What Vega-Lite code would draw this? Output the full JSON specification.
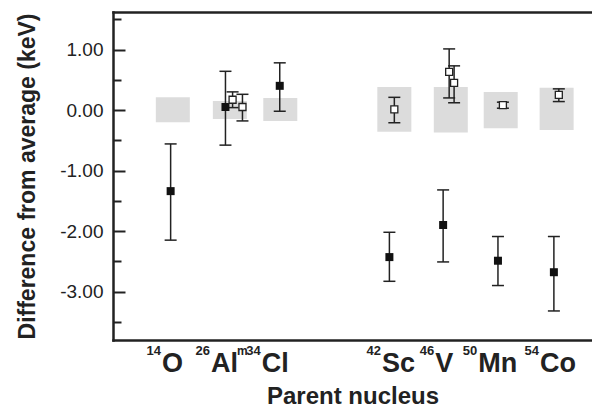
{
  "$schema": "https://vega.github.io/schema/vega-lite/v6.json",
  "width": 479,
  "height": 328,
  "autosize": {"type": "none"},
  "padding": {"left": 113, "top": 12, "right": 0, "bottom": 67},
  "background": "white",
  "config": {"view": {"stroke": null}, "font": "Liberation Sans"},
  "datasets": {
    "bands": [
      {"nucleus": "14O", "pos": 1.0, "lo": -0.20, "hi": 0.21},
      {"nucleus": "26Alm", "pos": 2.04, "lo": -0.15, "hi": 0.15},
      {"nucleus": "34Cl", "pos": 2.96, "lo": -0.18, "hi": 0.20},
      {"nucleus": "42Sc", "pos": 5.04, "lo": -0.36, "hi": 0.38},
      {"nucleus": "46V", "pos": 6.07, "lo": -0.37, "hi": 0.38},
      {"nucleus": "50Mn", "pos": 6.98, "lo": -0.30, "hi": 0.30},
      {"nucleus": "54Co", "pos": 8.0, "lo": -0.33, "hi": 0.37}
    ],
    "points": [
      {"nucleus": "14O", "kind": "filled", "pos": 0.96, "value": -1.34, "lo": -2.15, "hi": -0.56},
      {"nucleus": "26Alm", "kind": "filled", "pos": 1.96, "value": 0.05, "lo": -0.58, "hi": 0.64},
      {"nucleus": "34Cl", "kind": "filled", "pos": 2.95, "value": 0.40, "lo": -0.02, "hi": 0.78},
      {"nucleus": "42Sc", "kind": "filled", "pos": 4.95, "value": -2.43, "lo": -2.83, "hi": -2.02},
      {"nucleus": "46V", "kind": "filled", "pos": 5.93, "value": -1.90, "lo": -2.51, "hi": -1.32},
      {"nucleus": "50Mn", "kind": "filled", "pos": 6.93, "value": -2.49, "lo": -2.90, "hi": -2.09},
      {"nucleus": "54Co", "kind": "filled", "pos": 7.95, "value": -2.68, "lo": -3.32, "hi": -2.09},
      {"nucleus": "26Alm", "kind": "open", "pos": 2.09, "value": 0.17, "lo": 0.04, "hi": 0.30},
      {"nucleus": "26Alm", "kind": "open", "pos": 2.27, "value": 0.05, "lo": -0.18, "hi": 0.26},
      {"nucleus": "42Sc", "kind": "open", "pos": 5.04, "value": 0.01, "lo": -0.21, "hi": 0.21},
      {"nucleus": "46V", "kind": "open", "pos": 6.04, "value": 0.63, "lo": 0.20, "hi": 1.01},
      {"nucleus": "46V", "kind": "open", "pos": 6.13, "value": 0.45, "lo": 0.12, "hi": 0.73},
      {"nucleus": "50Mn", "kind": "open", "pos": 7.02, "value": 0.08, "lo": 0.03, "hi": 0.13},
      {"nucleus": "54Co", "kind": "open", "pos": 8.04, "value": 0.25, "lo": 0.14, "hi": 0.35}
    ],
    "labels": [
      {"nucleus": "14O", "mass": "14", "symbol": "O", "isomer": "", "pos": 0.804},
      {"nucleus": "26Alm", "mass": "26", "symbol": "Al", "isomer": "m", "pos": 1.696},
      {"nucleus": "34Cl", "mass": "34", "symbol": "Cl", "isomer": "", "pos": 2.62},
      {"nucleus": "42Sc", "mass": "42", "symbol": "Sc", "isomer": "", "pos": 4.813},
      {"nucleus": "46V", "mass": "46", "symbol": "V", "isomer": "", "pos": 5.786},
      {"nucleus": "50Mn", "mass": "50", "symbol": "Mn", "isomer": "", "pos": 6.571},
      {"nucleus": "54Co", "mass": "54", "symbol": "Co", "isomer": "", "pos": 7.696}
    ]
  },
  "layer": [
    {
      "data": {"name": "bands"},
      "mark": {"type": "bar", "width": 34, "color": "#dcdcdc"},
      "encoding": {
        "x": {
          "field": "pos", "type": "quantitative",
          "scale": {"domain": [0, 8.554], "nice": false, "zero": false},
          "axis": {
            "orient": "bottom",
            "labels": false,
            "ticks": false,
            "grid": false,
            "domainColor": "#222",
            "domainWidth": 2.5,
            "domainCap": "square",
            "title": "Parent nucleus",
            "titleFontSize": 24,
            "titleFontWeight": "bold",
            "titleColor": "#222",
            "titleY": 63,
            "titleBaseline": "alphabetic"
          }
        },
        "y": {
          "field": "lo", "type": "quantitative",
          "scale": {"domain": [-3.8, 1.62], "nice": false, "zero": false},
          "axis": {
            "orient": "left",
            "values": [-3, -2, -1, 0, 1],
            "labelExpr": "datum.value < 0 ? '-' + format(-datum.value, '.2f') : format(datum.value, '.2f')",
            "grid": false,
            "ticks": false,
            "domainColor": "#222",
            "domainWidth": 2.5,
            "domainCap": "square",
            "labelFontSize": 19,
            "labelColor": "#222",
            "labelPadding": 10,
            "title": "Difference from average (keV)",
            "titleFontSize": 23,
            "titleFontWeight": "bold",
            "titleColor": "#222",
            "titleX": -79,
            "titleBaseline": "alphabetic",
            "titleAngle": 270
          }
        },
        "y2": {"field": "hi"}
      }
    },
    {
      "data": {"name": "points"},
      "mark": {"type": "rule", "color": "#222", "strokeWidth": 1.5},
      "encoding": {
        "x": {
          "field": "pos", "type": "quantitative",
          "axis": {"orient": "top", "labels": false, "ticks": false, "grid": false, "title": null, "domainColor": "#222", "domainWidth": 2.5, "domainCap": "square"}
        },
        "y": {
          "field": "lo", "type": "quantitative",
          "axis": {"orient": "right", "offset": -479, "values": [-3, -2, -1, 0, 1], "labels": false, "domain": false, "grid": false, "title": null, "tickSize": 12, "tickWidth": 2, "tickColor": "#222"}
        },
        "y2": {"field": "hi"}
      }
    },
    {
      "data": {"name": "points"},
      "mark": {"type": "tick", "orient": "horizontal", "size": 12, "thickness": 1.5, "color": "#222", "opacity": 1},
      "encoding": {
        "x": {"field": "pos", "type": "quantitative", "axis": null},
        "y": {
          "field": "lo", "type": "quantitative",
          "axis": {"orient": "right", "offset": -479, "values": [-3.5, -2.5, -1.5, -0.5, 0.5, 1.5], "labels": false, "domain": false, "grid": false, "title": null, "tickSize": 8, "tickWidth": 2, "tickColor": "#222"}
        }
      }
    },
    {
      "data": {"name": "points"},
      "mark": {"type": "tick", "orient": "horizontal", "size": 12, "thickness": 1.5, "color": "#222", "opacity": 1},
      "encoding": {
        "x": {"field": "pos", "type": "quantitative", "axis": null},
        "y": {"field": "hi", "type": "quantitative", "axis": null}
      }
    },
    {
      "data": {"name": "points"},
      "transform": [{"filter": "datum.kind === 'filled'"}],
      "mark": {"type": "point", "shape": "square", "size": 64, "filled": true, "color": "#111", "opacity": 1},
      "encoding": {
        "x": {"field": "pos", "type": "quantitative", "axis": null},
        "y": {"field": "value", "type": "quantitative", "axis": null}
      }
    },
    {
      "data": {"name": "points"},
      "transform": [{"filter": "datum.kind === 'open'"}],
      "mark": {"type": "point", "shape": "square", "size": 49, "filled": true, "fill": "white", "stroke": "#222", "strokeWidth": 1.3, "opacity": 1},
      "encoding": {
        "x": {"field": "pos", "type": "quantitative", "axis": null},
        "y": {"field": "value", "type": "quantitative", "axis": null}
      }
    },
    {
      "data": {"name": "labels"},
      "mark": {"type": "text", "align": "left", "baseline": "alphabetic", "dy": 32, "fontSize": 27, "fontWeight": "bold", "color": "#222"},
      "encoding": {
        "x": {"field": "pos", "type": "quantitative", "axis": null},
        "y": {"datum": -3.8, "type": "quantitative", "axis": null},
        "text": {"field": "symbol"}
      }
    },
    {
      "data": {"name": "labels"},
      "mark": {"type": "text", "align": "right", "baseline": "alphabetic", "dy": 15, "dx": -1, "fontSize": 13, "fontWeight": "bold", "color": "#222"},
      "encoding": {
        "x": {"field": "pos", "type": "quantitative", "axis": null},
        "y": {"datum": -3.8, "type": "quantitative", "axis": null},
        "text": {"field": "mass"}
      }
    },
    {
      "data": {"name": "labels"},
      "transform": [{"filter": "datum.isomer !== ''"}],
      "mark": {"type": "text", "align": "left", "baseline": "alphabetic", "dy": 15, "dx": 26, "fontSize": 12, "fontWeight": "bold", "color": "#222"},
      "encoding": {
        "x": {"field": "pos", "type": "quantitative", "axis": null},
        "y": {"datum": -3.8, "type": "quantitative", "axis": null},
        "text": {"field": "isomer"}
      }
    }
  ],
  "resolve": {"axis": {"x": "independent", "y": "independent"}}
}
